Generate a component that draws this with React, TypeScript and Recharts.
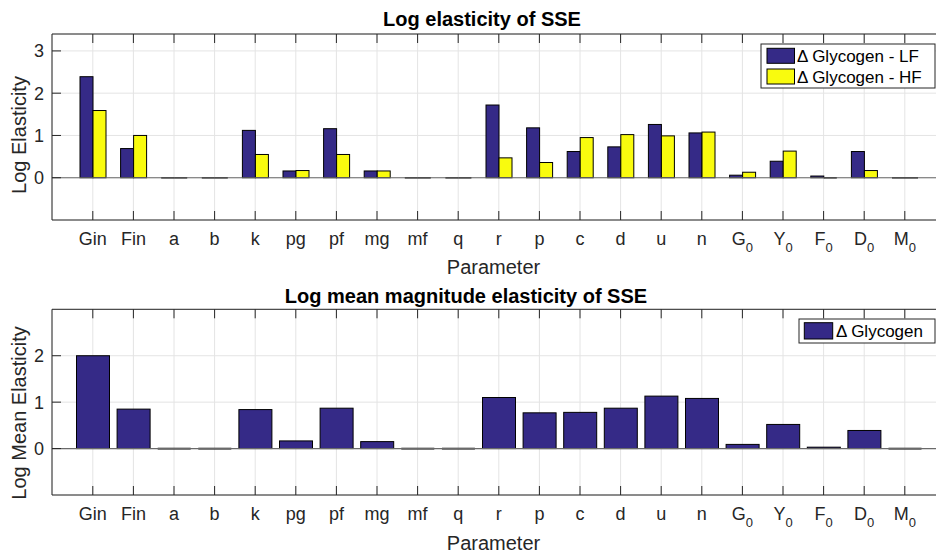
import React from 'react';
import { BarChart, Bar, XAxis, YAxis, CartesianGrid, ReferenceLine } from 'recharts';

const params = ['Gin', 'Fin', 'a', 'b', 'k', 'pg', 'pf', 'mg', 'mf', 'q', 'r', 'p', 'c', 'd', 'u', 'n', 'G_0', 'Y_0', 'F_0', 'D_0', 'M_0'];
const lfValues = [2.39, 0.69, 0, 0, 1.12, 0.16, 1.16, 0.16, 0, 0, 1.72, 1.18, 0.62, 0.73, 1.26, 1.06, 0.06, 0.39, 0.04, 0.62, 0];
const hfValues = [1.59, 1.0, 0, 0, 0.55, 0.17, 0.55, 0.16, 0, 0, 0.47, 0.36, 0.95, 1.02, 0.99, 1.08, 0.13, 0.63, 0.01, 0.17, 0];
const meanValues = [2.0, 0.85, 0, 0, 0.84, 0.165, 0.87, 0.15, 0, 0, 1.1, 0.77, 0.78, 0.87, 1.13, 1.08, 0.09, 0.52, 0.03, 0.39, 0];
const topTicks = [0, 1, 2, 3];
const bottomTicks = [0, 1, 2];
const topSeries = ['\u0394 Glycogen - LF', '\u0394 Glycogen - HF'];
const bottomSeries = ['\u0394 Glycogen'];
const topTitle = 'Log elasticity of SSE';
const bottomTitle = 'Log mean magnitude elasticity of SSE';
const xLabel = 'Parameter';
const topYLabel = 'Log Elasticity';
const bottomYLabel = 'Log Mean Elasticity';

const NAVY = '#352a87';
const YELLOW = '#f9fb0e';
const FONT = '"Liberation Sans", Arial, Helvetica, sans-serif';
const AX = '#262626';
const GRID = '#e4e4e4';

const topData = params.map((p, i) => ({ param: p, lf: lfValues[i], hf: hfValues[i] }));
const bottomData = params.map((p, i) => ({ param: p, mean: meanValues[i] }));

function XTickBottom(props: any) {
  const { x, y, payload } = props;
  const label = String(payload.value);
  const [main, sub] = label.split('_');
  return (
    <g>
      <line x1={x} x2={x} y1={y} y2={y - 9} stroke={AX} strokeWidth={1} />
      <text x={x} y={y + 25} textAnchor="middle" fontSize={18} fill={AX} fontFamily={FONT}>
        {main}
        {sub !== undefined && (
          <tspan fontSize={13} dy={7}>
            {sub}
          </tspan>
        )}
      </text>
    </g>
  );
}

function XTickTop(props: any) {
  const { x, y } = props;
  return <line x1={x} x2={x} y1={y} y2={y + 9} stroke={AX} strokeWidth={1} />;
}

function YTick(props: any) {
  const { x, y, payload } = props;
  return (
    <g>
      <line x1={x} x2={x + 9} y1={y} y2={y} stroke={AX} strokeWidth={1} />
      <text x={x - 8} y={y} dy="0.36em" textAnchor="end" fontSize={18} fill={AX} fontFamily={FONT}>
        {payload.value}
      </text>
    </g>
  );
}

function BarShape(props: any) {
  const { x, y, width, height, color } = props;
  if (x == null || y == null) return null;
  if (!height || Math.abs(height) < 0.8) {
    return <line x1={x} x2={x + width} y1={y + (height || 0)} y2={y + (height || 0)} stroke="#000" strokeWidth={1.6} />;
  }
  return <rect x={x} y={y} width={width} height={height} fill={color} stroke="#000" strokeWidth={1} />;
}

const PAD = { left: 20.5, right: 20.5 };

export default function App() {
  return (
    <div style={{ position: 'absolute', left: 0, top: 0, width: 936, height: 554, overflow: 'hidden', background: '#fff' }}>
      <div style={{ position: 'absolute', left: 0, top: 0 }}>
        <BarChart width={960} height={280} data={topData} margin={{ top: 33, left: 0, right: 14.4, bottom: 0 }} barCategoryGap={7.5} barGap={0}>
          <CartesianGrid stroke={GRID} strokeWidth={1} />
          <XAxis dataKey="param" height={60} padding={PAD} interval={0} tickLine={false} tickSize={0} tickMargin={0} axisLine={{ stroke: AX }} tick={<XTickBottom />} />
          <XAxis xAxisId="top" orientation="top" dataKey="param" height={1} padding={PAD} interval={0} tickLine={false} tickSize={0} tickMargin={0} axisLine={{ stroke: AX }} tick={<XTickTop />} />
          <YAxis type="number" width={52} domain={[-1, 3.4]} ticks={topTicks} interval={0} allowDataOverflow tickLine={false} tickSize={0} tickMargin={0} axisLine={{ stroke: AX }} tick={<YTick />} />
          <ReferenceLine y={0} stroke="#6a6a6a" strokeWidth={1.2} />
          <Bar dataKey="lf" isAnimationActive={false} shape={(p: any) => <BarShape {...p} color={NAVY} />} />
          <Bar dataKey="hf" isAnimationActive={false} shape={(p: any) => <BarShape {...p} color={YELLOW} />} />
        </BarChart>
      </div>
      <div style={{ position: 'absolute', left: 0, top: 275 }}>
        <BarChart width={960} height={280} data={bottomData} margin={{ top: 33.3, left: 0, right: 14.4, bottom: 0 }} barCategoryGap={4} barGap={0}>
          <CartesianGrid stroke={GRID} strokeWidth={1} />
          <XAxis dataKey="param" height={60} padding={PAD} interval={0} tickLine={false} tickSize={0} tickMargin={0} axisLine={{ stroke: AX }} tick={<XTickBottom />} />
          <XAxis xAxisId="top" orientation="top" dataKey="param" height={1} padding={PAD} interval={0} tickLine={false} tickSize={0} tickMargin={0} axisLine={{ stroke: AX }} tick={<XTickTop />} />
          <YAxis type="number" width={52} domain={[-1, 3]} ticks={bottomTicks} interval={0} allowDataOverflow tickLine={false} tickSize={0} tickMargin={0} axisLine={{ stroke: AX }} tick={<YTick />} />
          <ReferenceLine y={0} stroke="#6a6a6a" strokeWidth={1.2} />
          <Bar dataKey="mean" isAnimationActive={false} shape={(p: any) => <BarShape {...p} color={NAVY} />} />
        </BarChart>
      </div>
      <svg width={936} height={554} style={{ position: 'absolute', left: 0, top: 0, pointerEvents: 'none' }} fontFamily={FONT}>
        <text x={482} y={26} textAnchor="middle" fontSize={20} fontWeight="bold" fill="#000">{topTitle}</text>
        <text x={466} y={302.5} textAnchor="middle" fontSize={20} fontWeight="bold" fill="#000">{bottomTitle}</text>
        <text x={493.5} y={274} textAnchor="middle" fontSize={20} fill={AX}>{xLabel}</text>
        <text x={493.5} y={550} textAnchor="middle" fontSize={20} fill={AX}>{xLabel}</text>
        <text x={26} y={135} textAnchor="middle" fontSize={20} fill={AX} transform="rotate(-90, 26, 135)">{topYLabel}</text>
        <text x={26} y={413} textAnchor="middle" fontSize={20} fill={AX} transform="rotate(-90, 26, 413)">{bottomYLabel}</text>
        <g>
          <rect x={761} y={44} width={174} height={44} fill="#fff" stroke={AX} strokeWidth={1} />
          {topSeries.map((s, i) => (
            <g key={s}>
              <rect x={767} y={48.3 + i * 20.7} width={27.5} height={15} fill={i === 0 ? NAVY : YELLOW} stroke="#000" strokeWidth={1} />
              <text x={797} y={62 + i * 20.7} fontSize={17} fill="#000">{s}</text>
            </g>
          ))}
        </g>
        <g>
          <rect x={799} y={319} width={136} height={24} fill="#fff" stroke={AX} strokeWidth={1} />
          {bottomSeries.map((s) => (
            <g key={s}>
              <rect x={804.3} y={322.7} width={28.4} height={16.3} fill={NAVY} stroke="#000" strokeWidth={1} />
              <text x={836} y={337} fontSize={17} fill="#000">{s}</text>
            </g>
          ))}
        </g>
      </svg>
    </div>
  );
}
